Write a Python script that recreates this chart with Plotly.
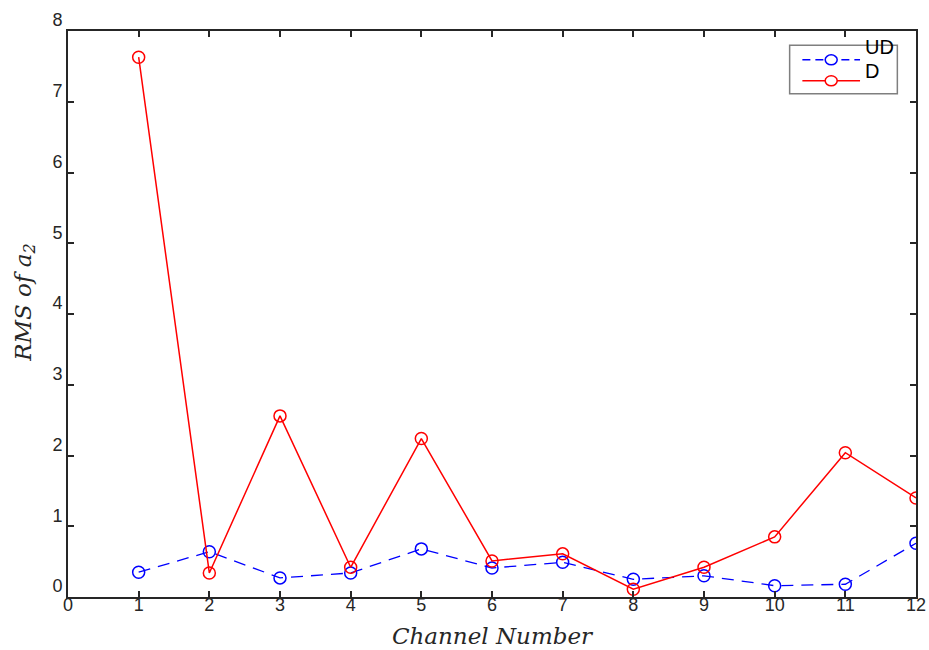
import plotly.graph_objects as go

# Channel indices and RMS of a2 for the two conditions
channels = [1, 2, 3, 4, 5, 6, 7, 8, 9, 10, 11, 12]
rms_ud = [0.35, 0.64, 0.27, 0.34, 0.68, 0.41, 0.49, 0.25, 0.30, 0.16, 0.18, 0.76]
rms_d = [7.63, 0.34, 2.56, 0.42, 2.24, 0.51, 0.61, 0.11, 0.42, 0.85, 2.04, 1.40]

x_ticks = list(range(0, 13))
y_ticks = list(range(0, 9))

AXIS_COLOR = "#262626"
TICK_FONT = dict(family="Liberation Sans, Arial, sans-serif", size=18, color="#262626")
TITLE_FONT = dict(family="DejaVu Serif, serif", size=23, color="#262626", style="italic")

fig = go.Figure()

fig.add_trace(go.Scatter(
    x=channels, y=rms_ud, mode="lines+markers", name="UD",
    line=dict(color="#0000ff", width=1.3, dash="12px,8px"),
    marker=dict(symbol="circle-open", size=12, color="#0000ff", line=dict(width=1.5)),
    showlegend=False,
))
fig.add_trace(go.Scatter(
    x=channels, y=rms_d, mode="lines+markers", name="D",
    line=dict(color="#ff0000", width=1.5),
    marker=dict(symbol="circle-open", size=12, color="#ff0000", line=dict(width=1.5)),
    showlegend=False,
))

axis_common = dict(
    showline=True, linecolor=AXIS_COLOR, linewidth=2, mirror="ticks",
    ticks="inside", ticklen=6, tickwidth=2, tickcolor=AXIS_COLOR,
    showgrid=False, zeroline=False, tickfont=TICK_FONT, automargin=False,
)

fig.update_xaxes(
    range=[0, 12], tickvals=x_ticks, ticktext=[str(v) for v in x_ticks],
    ticklabelstandoff=-10,
    title=dict(text="Channel Number", font=TITLE_FONT, standoff=14),
    **axis_common,
)
fig.update_yaxes(
    range=[0, 8], tickvals=y_ticks, ticktext=[str(v) for v in y_ticks],
    ticklabelshift=-11,
    **axis_common,
)

# Legend box drawn in paper coordinates
box = dict(x0=0.851, x1=0.978, y0=0.889, y1=0.975)
rows = [
    ("UD", "#0000ff", "8px,5px", 0.949, 0.972),
    ("D", "#ff0000", "solid", 0.912, 0.929),
]
shapes = [dict(type="rect", xref="paper", yref="paper", **box,
               line=dict(color="#7f7f7f", width=1.5), fillcolor="white", layer="above")]
annotations = [
    # y-axis title
    dict(xref="paper", yref="paper", x=-0.051, y=0.521, textangle=-90,
         xanchor="center", yanchor="middle", showarrow=False,
         text="RMS of a<sub>2</sub>", font=TITLE_FONT),
]
for label, color, dash, ly, ty in rows:
    shapes.append(dict(type="line", xref="paper", yref="paper",
                       x0=0.866, x1=0.934, y0=ly, y1=ly,
                       line=dict(color=color, width=1.5, dash=dash), layer="above"))
    shapes.append(dict(type="circle", xref="paper", yref="paper",
                       xsizemode="pixel", ysizemode="pixel",
                       xanchor=0.900, yanchor=ly, x0=-6, x1=6, y0=-5, y1=5,
                       line=dict(color=color, width=1.5), fillcolor="white", layer="above"))
    annotations.append(dict(xref="paper", yref="paper", x=0.938, y=ty,
                            xanchor="left", yanchor="middle", showarrow=False,
                            text=label, font=dict(family="Liberation Sans, Arial, sans-serif",
                                                  size=20, color="black")))

fig.update_layout(
    width=929, height=650,
    margin=dict(l=68, r=13, t=31, b=53),
    paper_bgcolor="white", plot_bgcolor="white",
    shapes=shapes, annotations=annotations,
    showlegend=False,
)

fig.write_html("out.html")
